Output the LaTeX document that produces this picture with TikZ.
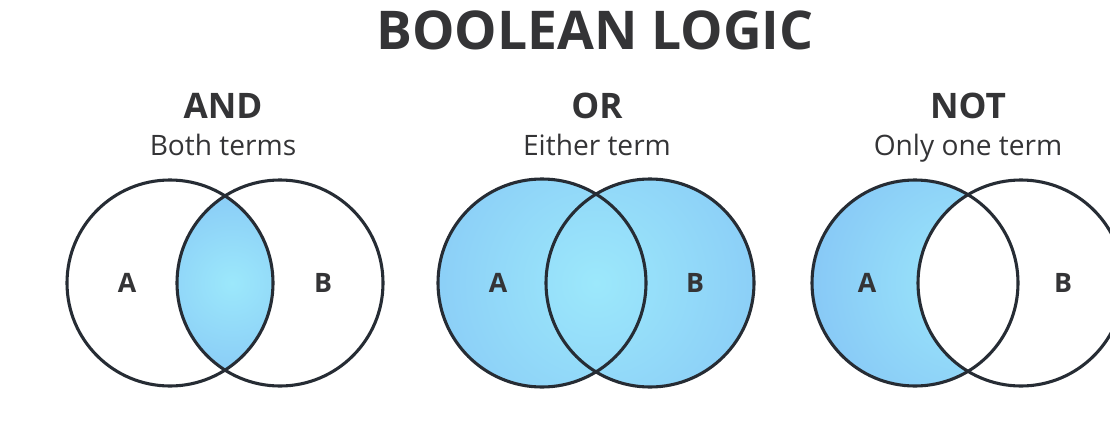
\documentclass[tikz,border=0pt]{standalone}
\usepackage{fontspec}
\setmainfont{Open Sans}
\usetikzlibrary{positioning}
\definecolor{inkgray}{RGB}{52,52,54}
\definecolor{vennline}{RGB}{38,44,52}
\definecolor{venncyan}{RGB}{156,232,251}
\definecolor{vennblue}{RGB}{122,180,243}

\begin{document}
\begin{tikzpicture}[x=0.025cm, y=-0.025cm,
    title/.style={font=\bfseries\fontsize{38}{44}\selectfont, text=inkgray, anchor=base},
    heading/.style={font=\bfseries\fontsize{25}{30}\selectfont, text=inkgray, anchor=base},
    subhead/.style={font=\fontsize{20}{24}\selectfont, text=inkgray, anchor=base},
    setlabel/.style={font=\bfseries\fontsize{19}{22}\selectfont, text=inkgray, anchor=base},
    ring/.style={draw=vennline, line width=2.2pt},
    glow/.style={inner color=venncyan, outer color=vennblue}
]
    \useasboundingbox (0,0) rectangle (1110,440);
    \clip (0,0) rectangle (1110,440);

    % Title
    \node[title] (boolean) at (595,50) {BOOLEAN LOGIC};

    % Set centres
    \coordinate (andA) at (170,283);
    \coordinate (andB) at (280,283);
    \coordinate (orA) at (542,283);
    \coordinate (orB) at (650,283);
    \coordinate (notA) at (915,283);
    \coordinate (notB) at (1021,283);

    % AND: intersection only
    \begin{scope}
        \clip (andA) circle (103);
        \clip (andB) circle (103);
        \shade[glow] (232,283) circle (170);
    \end{scope}
    \draw[ring] (andA) circle (103);
    \draw[ring] (andB) circle (103);

    % OR: union
    \begin{scope}
        \clip (orA) circle (104) (orB) circle (104);
        \shade[glow] (596,283) circle (330);
    \end{scope}
    \draw[ring] (orA) circle (104);
    \draw[ring] (orB) circle (104);

    % NOT: A without B
    \begin{scope}
        \clip (notA) circle (103);
        \shade[glow] (968,283) circle (260);
        \fill[white] (notB) circle (103);
    \end{scope}
    \draw[ring] (notA) circle (103);
    \draw[ring] (notB) circle (103);

    % Headings
    \node[heading] (andhead) at (223,118) {AND};
    \node[subhead] (andsub) at (223,155) {Both terms};
    \node[heading] (orhead) at (597,118) {OR};
    \node[subhead] (orsub) at (597,155) {Either term};
    \node[heading] (nothead) at (968,118) {NOT};
    \node[subhead] (notsub) at (968,155) {Only one term};

    % Set labels
    \node[setlabel] (andlabA) at (127,292) {A};
    \node[setlabel] (andlabB) at (323,292) {B};
    \node[setlabel] (orlabA) at (498,292) {A};
    \node[setlabel] (orlabB) at (695,292) {B};
    \node[setlabel] (notlabA) at (867,292) {A};
    \node[setlabel] (notlabB) at (1063,292) {B};
\end{tikzpicture}
\end{document}
